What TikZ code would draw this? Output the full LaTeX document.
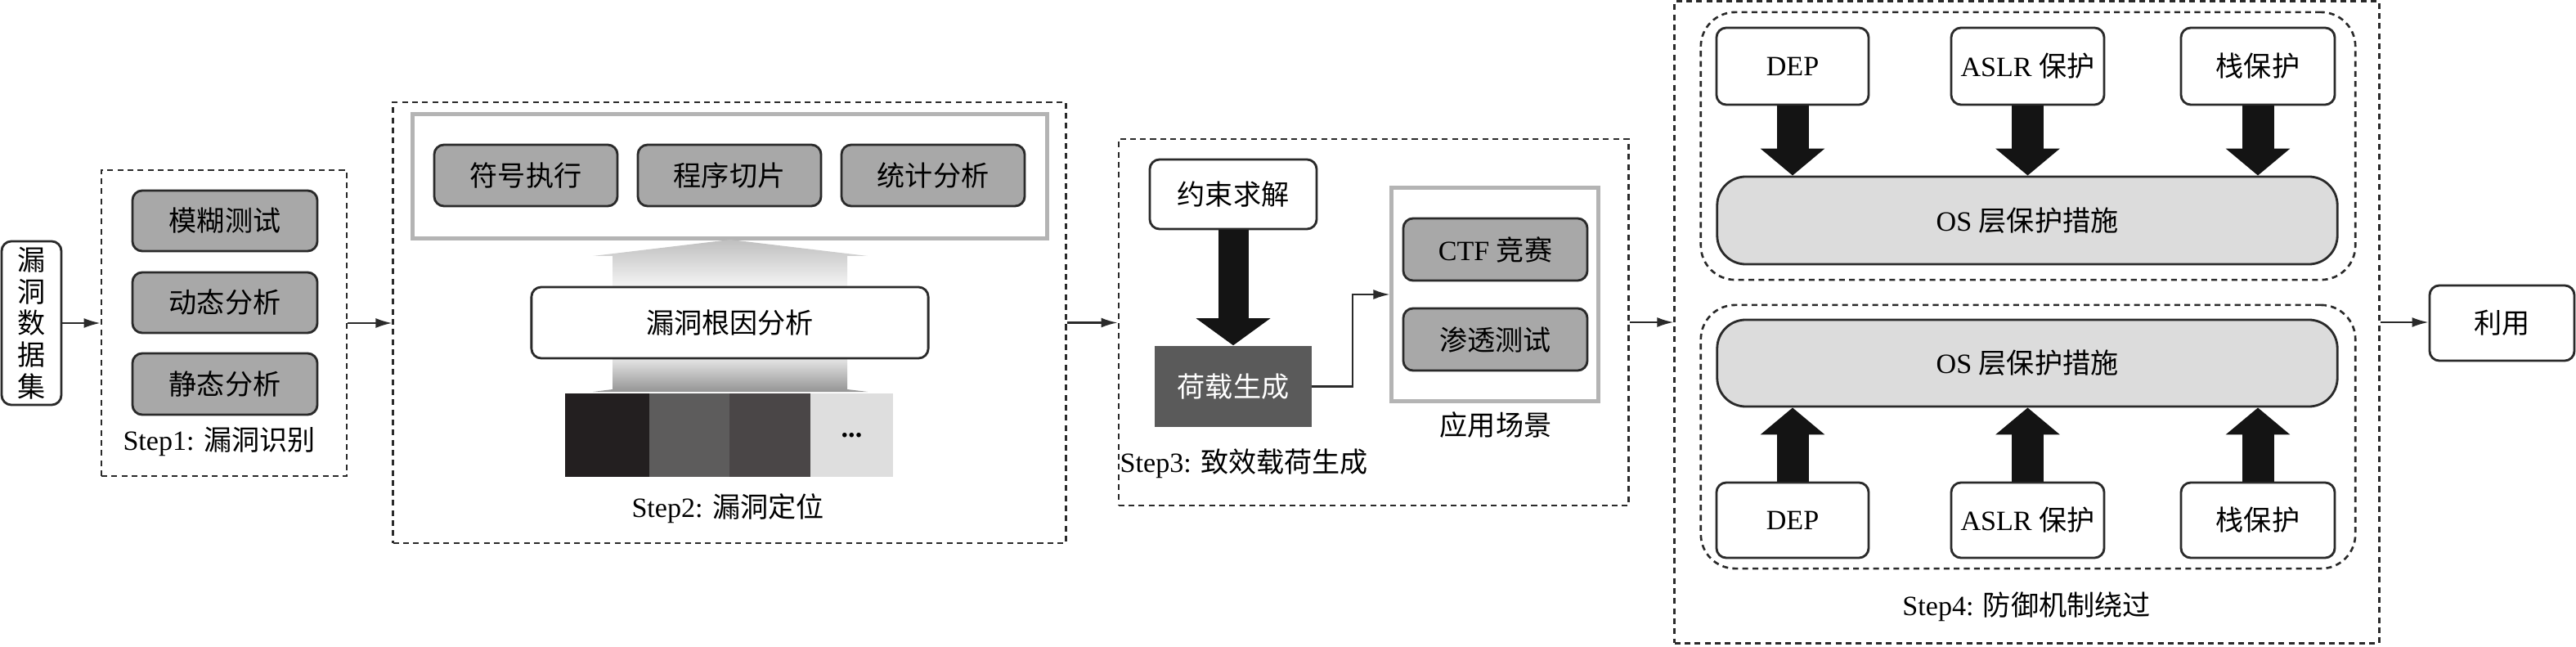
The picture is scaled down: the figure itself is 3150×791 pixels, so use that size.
\documentclass[tikz,border=0pt]{standalone}
\usepackage{fontspec}
\setmainfont{Liberation Serif}
\newfontfamily\cjk{Noto Sans CJK SC}
\usetikzlibrary{arrows.meta}
\newcommand\zh[1]{{\cjk #1}}
\definecolor{boxgray}{HTML}{A8A8A8}
\definecolor{osgray}{HTML}{DCDCDC}
\definecolor{framegray}{HTML}{B4B4B4}
\definecolor{loadgray}{HTML}{5A5A5A}
\definecolor{blkA}{HTML}{231F20}
\definecolor{blkB}{HTML}{5D5C5C}
\definecolor{blkC}{HTML}{4A4647}
\definecolor{blkD}{HTML}{DEDEDE}
\definecolor{edge}{HTML}{2A2A2A}
\begin{document}
\begin{tikzpicture}[x=0.01cm,y=-0.01cm,
  every node/.style={font=\fontsize{9.7pt}{11pt}\selectfont, inner sep=0pt},
  stepframe/.style={draw=edge, line width=0.75pt, dash pattern=on 2pt off 1.5pt},
  graybox/.style={draw=edge, fill=boxgray, rounded corners=0.12cm, line width=0.8pt},
  whitebox/.style={draw=edge, fill=white, rounded corners=0.12cm, line width=0.8pt},
  lightframe/.style={draw=framegray, line width=1.4pt},
  conn/.style={draw=edge, line width=0.6pt, -{Latex[length=0.2cm,width=0.12cm]}},
  bigarrow/.style={draw=black!92, line width=0.39cm, -{Triangle[width=0.77cm,length=0.33cm]}},
  bigarrowb/.style={draw=black!92, line width=0.37cm, -{Triangle[width=0.89cm,length=0.33cm]}},
  blk/.style={minimum width=#1, minimum height=1.02cm}
]
\useasboundingbox (0,0) rectangle (3150,791);

% ---------- data set ----------
\node[whitebox, minimum width=0.73cm, minimum height=2.00cm, align=center,
      font=\cjk\fontsize{9.7pt}{11pt}\selectfont] (ds) at (38.5,395) {漏\\洞\\数\\据\\集};

% ---------- Step 1 ----------
\node[stepframe, minimum width=3.00cm, minimum height=3.74cm] (s1) at (274,395) {};
\node[graybox, minimum width=2.26cm, minimum height=0.74cm] (fuzz) at (275,270) {\zh{模糊测试}};
\node[graybox, minimum width=2.26cm, minimum height=0.74cm] (dyn) at (275,370) {\zh{动态分析}};
\node[graybox, minimum width=2.26cm, minimum height=0.75cm] (sta) at (275,469.5) {\zh{静态分析}};
\node (s1lab) at (268,540) {Step1: \zh{漏洞识别}};

% ---------- Step 2 ----------
\node[stepframe, minimum width=8.22cm, minimum height=5.39cm] (s2) at (892,394.5) {};
\node[lightframe, minimum width=7.75cm, minimum height=1.51cm] (tech) at (892.5,215.5) {};
% gradient arrows
\shade[top color=black!25, bottom color=black!4]
  (749,351) -- (749,313) -- (725,313) -- (893,293) -- (1061,313) -- (1036,313) -- (1036,351) -- cycle;
\shade[top color=black!10, bottom color=black!42]
  (749,438) -- (749,476) -- (725,479) -- (1061,479) -- (1036,476) -- (1036,438) -- cycle;
\node[graybox, minimum width=2.24cm, minimum height=0.75cm] (sym) at (643,214.5) {\zh{符号执行}};
\node[graybox, minimum width=2.24cm, minimum height=0.75cm] (slice) at (892,214.5) {\zh{程序切片}};
\node[graybox, minimum width=2.24cm, minimum height=0.75cm] (stat) at (1141,214.5) {\zh{统计分析}};
\node[whitebox, minimum width=4.85cm, minimum height=0.87cm] (root) at (892.5,394.5) {\zh{漏洞根因分析}};
\node[fill=blkA, blk=1.03cm] (b1) at (742.5,532) {};
\node[fill=blkB, blk=0.98cm] (b2) at (843,532) {};
\node[fill=blkC, blk=0.99cm] (b3) at (941.5,532) {};
\node[fill=blkD, blk=1.01cm] (b4) at (1041.5,532) {\textbf{...}};
\node (s2lab) at (890,622) {Step2: \zh{漏洞定位}};

% ---------- Step 3 ----------
\node[stepframe, minimum width=6.23cm, minimum height=4.48cm] (s3) at (1679.5,394) {};
\node[whitebox, minimum width=2.04cm, minimum height=0.85cm] (solve) at (1508,237.5) {\zh{约束求解}};
\node[fill=loadgray, text=white, minimum width=1.91cm, minimum height=0.99cm] (load) at (1508,472.5) {\zh{荷载生成}};
\node[lightframe, minimum width=2.52cm, minimum height=2.60cm] (app) at (1828,360) {};
\node[graybox, minimum width=2.25cm, minimum height=0.76cm] (ctf) at (1828.5,305) {CTF \zh{竞赛}};
\node[graybox, minimum width=2.25cm, minimum height=0.76cm] (pen) at (1828.5,415) {\zh{渗透测试}};
\node (applab) at (1829,520) {\zh{应用场景}};
\node[anchor=west] (s3lab) at (1369,567) {Step3: \zh{致效载荷生成}};
\draw[bigarrowb] (solve.south) -- (load.north);
\draw[conn] (load.east) -- ++(50,0) |- (app.west);

% ---------- Step 4 ----------
\node[stepframe, minimum width=8.61cm, minimum height=7.84cm] (s4) at (2478.5,394) {};
\node[stepframe, rounded corners=0.42cm, minimum width=8.00cm, minimum height=3.27cm] (g1) at (2480,178.5) {};
\node[stepframe, rounded corners=0.42cm, minimum width=8.00cm, minimum height=3.22cm] (g2) at (2480,534) {};
\node[whitebox, minimum width=1.86cm, minimum height=0.94cm] (depA) at (2192,81) {DEP};
\node[whitebox, minimum width=1.87cm, minimum height=0.94cm] (aslrA) at (2479.5,81) {ASLR \zh{保护}};
\node[whitebox, minimum width=1.88cm, minimum height=0.94cm] (stkA) at (2761,81) {\zh{栈保护}};
\node[draw=edge, fill=osgray, line width=0.8pt, rounded corners=0.35cm,
      minimum width=7.58cm, minimum height=1.07cm] (osA) at (2479,269.5) {OS \zh{层保护措施}};
\node[draw=edge, fill=osgray, line width=0.8pt, rounded corners=0.35cm,
      minimum width=7.58cm, minimum height=1.06cm] (osB) at (2479,444) {OS \zh{层保护措施}};
\node[whitebox, minimum width=1.86cm, minimum height=0.92cm] (depB) at (2192,636) {DEP};
\node[whitebox, minimum width=1.87cm, minimum height=0.92cm] (aslrB) at (2479.5,636) {ASLR \zh{保护}};
\node[whitebox, minimum width=1.88cm, minimum height=0.92cm] (stkB) at (2761,636) {\zh{栈保护}};
\draw[bigarrow] (depA.south) -- (depA.south |- osA.north);
\draw[bigarrow] (aslrA.south) -- (aslrA.south |- osA.north);
\draw[bigarrow] (stkA.south) -- (stkA.south |- osA.north);
\draw[bigarrow] (depB.north) -- (depB.north |- osB.south);
\draw[bigarrow] (aslrB.north) -- (aslrB.north |- osB.south);
\draw[bigarrow] (stkB.north) -- (stkB.north |- osB.south);
\node (s4lab) at (2478,742) {Step4: \zh{防御机制绕过}};

% ---------- use ----------
\node[whitebox, minimum width=1.77cm, minimum height=0.92cm] (use) at (3059.5,395) {\zh{利用}};

% ---------- main flow ----------
\draw[conn] (ds.east) -- (ds.east -| s1.west);
\draw[conn] (s1.east) -- (s1.east -| s2.west);
\draw[conn] (s2.east) -- (s2.east -| s3.west);
\draw[conn] (s3.east) -- (s3.east -| s4.west);
\draw[conn] (s4.east) -- (s4.east -| use.west);
\end{tikzpicture}
\end{document}
